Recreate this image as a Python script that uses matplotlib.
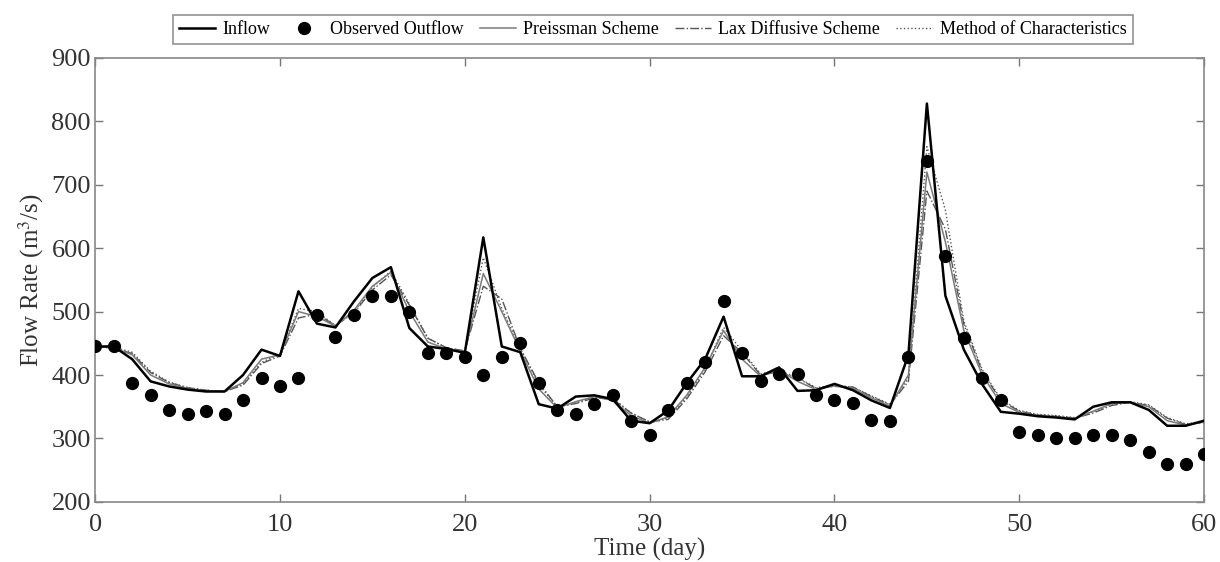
import matplotlib
matplotlib.use("Agg")
import matplotlib.pyplot as plt
import numpy as np

plt.rcParams['font.family'] = ['Liberation Serif', 'DejaVu Serif']
plt.rcParams['mathtext.fontset'] = 'stix'

days = list(range(0, 61))

inflow = [445, 445, 425, 390, 382, 377, 374, 374, 400, 440,
          430, 532, 481, 475, 516, 553, 570, 474, 445, 441,
          435, 617, 445, 436, 354, 347, 366, 368, 362, 328,
          324, 344, 387, 425, 492, 398, 398, 412, 375, 376,
          386, 376, 360, 348, 432, 828, 525, 440, 385, 342,
          339, 335, 333, 330, 350, 357, 357, 345, 320, 320, 328]

observed = [445, 445, 388, 368, 345, 338, 343, 338, 360, 395,
            382, 395, 495, 460, 495, 525, 525, 500, 435, 435,
            428, 400, 428, 450, 388, 345, 338, 355, 368, 328,
            305, 345, 388, 420, 517, 435, 390, 402, 402, 369,
            360, 356, 329, 328, 429, 737, 587, 458, 395, 360,
            310, 305, 300, 300, 305, 305, 298, 278, 260, 260, 275]

preissman = [445, 443, 432, 400, 386, 379, 375, 374, 388, 425,
             432, 500, 492, 477, 502, 540, 562, 500, 452, 441,
             437, 560, 500, 438, 378, 348, 358, 366, 360, 336,
             324, 334, 368, 412, 470, 425, 398, 408, 390, 377,
             383, 379, 364, 351, 400, 720, 610, 470, 400, 355,
             341, 336, 334, 331, 343, 355, 357, 350, 328, 321, 326]

lax = [445, 442, 434, 404, 388, 380, 376, 374, 384, 418,
       430, 490, 496, 478, 498, 534, 558, 510, 458, 443,
       438, 540, 520, 442, 388, 350, 355, 364, 362, 340,
       326, 330, 362, 405, 462, 435, 400, 405, 395, 379,
       382, 381, 366, 353, 390, 690, 630, 480, 405, 360,
       343, 337, 335, 332, 340, 352, 357, 352, 332, 322, 325]

moc = [445, 444, 436, 406, 389, 380, 376, 374, 386, 420,
       433, 505, 500, 478, 500, 538, 564, 512, 458, 443,
       438, 585, 505, 442, 385, 350, 356, 365, 364, 340,
       326, 332, 365, 410, 475, 438, 402, 407, 396, 380,
       384, 381, 367, 354, 395, 760, 660, 485, 408, 362,
       344, 338, 336, 333, 342, 354, 358, 353, 333, 323, 327]

fig = plt.figure(figsize=(12.2, 5.62), dpi=100)
ax = fig.add_axes([0.078, 0.107, 0.909, 0.79])

ax.plot(days, inflow, color='black', lw=1.8, label='Inflow', zorder=5)
ax.plot(days, observed, 'o', color='black', ms=8.5, label='Observed Outflow', zorder=6)
ax.plot(days, preissman, color='#7a7a7a', lw=1.1, label='Preissman Scheme', zorder=4)
ax.plot(days, lax, color='#555555', lw=1.0, ls='-.', label='Lax Diffusive Scheme', zorder=3)
ax.plot(days, moc, color='#555555', lw=1.0, ls=':', label='Method of Characteristics', zorder=3)

ax.set_xlim(0, 60)
ax.set_ylim(200, 900)
ax.set_xticks(range(0, 61, 10))
ax.set_yticks(range(200, 901, 100))
ax.tick_params(direction='in', top=True, right=True, length=6, width=1,
               color='#777777', labelcolor='#333333', labelsize=19)
ax.tick_params(axis='x', pad=9)
ax.tick_params(axis='y', pad=3)
for s in ax.spines.values():
    s.set_color('#888888')
    s.set_linewidth(1.2)

ax.set_xlabel('Time (day)', fontsize=18, color='#333333', labelpad=1)
ax.set_ylabel('Flow Rate (m$^3$/s)', fontsize=18, color='#333333', labelpad=4)

leg = fig.legend(loc='upper center', bbox_to_anchor=(0.535, 0.99), ncol=5,
                 fontsize=13, frameon=True, fancybox=False, edgecolor='#777777',
                 handlelength=2.0, handletextpad=0.4, columnspacing=0.9,
                 borderpad=0.35)
leg.get_frame().set_linewidth(1.2)

fig.savefig('out.png', dpi=100)
